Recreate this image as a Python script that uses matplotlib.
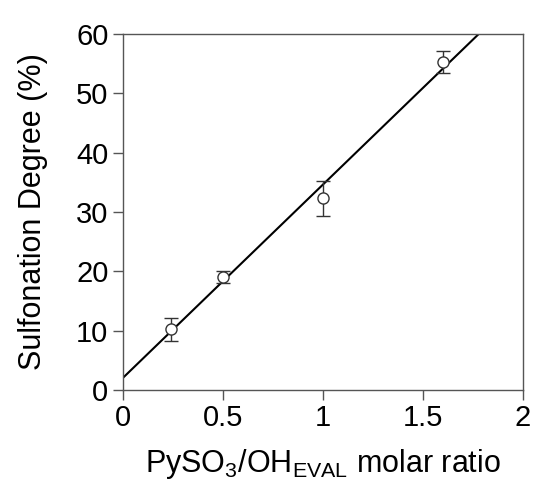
import numpy as np
import matplotlib
matplotlib.use("Agg")
import matplotlib.pyplot as plt

plt.rcParams['font.family'] = ['Liberation Sans', 'DejaVu Sans']
plt.rcParams['mathtext.fontset'] = 'custom'
plt.rcParams['mathtext.rm'] = 'Liberation Sans'
plt.rcParams['mathtext.it'] = 'Liberation Sans'

# data
ratio = [0.24, 0.5, 1.0, 1.6]
degree = [10.2, 19.1, 32.3, 55.3]
err = [1.9, 1.0, 3.0, 1.9]
xticks = [0, 0.5, 1, 1.5, 2]
xticklabels = ['0', '0.5', '1', '1.5', '2']
yticks = [0, 10, 20, 30, 40, 50, 60]

fig = plt.figure(figsize=(5.38, 4.86), dpi=100)
ax = fig.add_axes([0.228, 0.1975, 0.744, 0.7325])

slope, intercept = np.polyfit(ratio, degree, 1)
xf = np.array([0, 2])
ax.plot(xf, slope * xf + intercept, color='black', lw=1.5, zorder=2)

ax.errorbar(ratio, degree, yerr=err, fmt='o', mfc='white', mec='#333333',
            ms=8, mew=1.0, ecolor='#333333', elinewidth=1.0, capsize=5,
            capthick=1.0, zorder=3)

ax.set_xlim(0, 2)
ax.set_ylim(0, 60)
ax.set_xticks(xticks)
ax.set_xticklabels(xticklabels)
ax.set_yticks(yticks)
for s in ax.spines.values():
    s.set_color('#555555')
    s.set_linewidth(1.0)
ax.tick_params(direction='out', length=7.2, width=1.0, color='#555555',
               labelsize=21, pad=3)
ax.set_xlabel(r'PySO$_\mathregular{3}$/OH$_\mathregular{EVAL}$ molar ratio', fontsize=22, labelpad=11)
ax.set_ylabel('Sulfonation Degree (%)', fontsize=22, labelpad=20)

fig.savefig('out.png', dpi=100)
